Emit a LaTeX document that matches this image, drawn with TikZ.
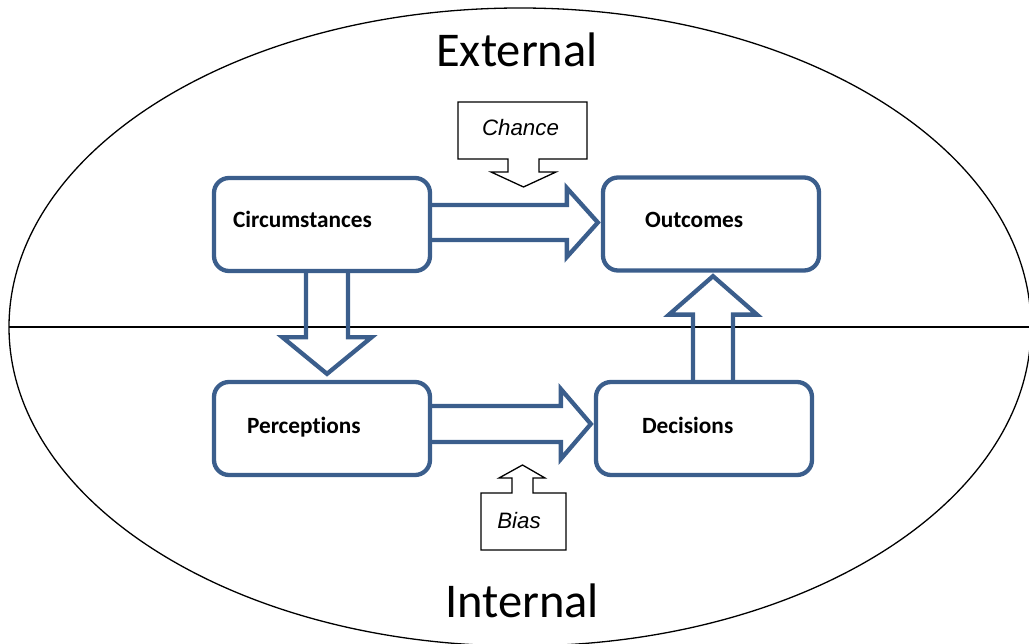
\documentclass[tikz,border=0pt]{standalone}
\usepackage{fontspec}
\setmainfont{Carlito}[Ligatures=NoCommon]
\newfontfamily\arialfont{Liberation Sans}
\usetikzlibrary{calc}
\definecolor{boxblue}{RGB}{59,94,140}
\begin{document}
\begin{tikzpicture}[x=1pt,y=-1pt,
  stage/.style={draw=boxblue, line width=4.3pt, rounded corners=15pt,
    minimum width=216pt, minimum height=93pt, fill=white, inner sep=0pt},
  stagetext/.style={font=\fontsize{23.3}{27}\selectfont\bfseries, anchor=base west, inner sep=0pt},
  blockarrow/.style={draw=boxblue, line width=4.3pt, line join=miter},
  callout/.style={draw=black, line width=1.3pt, fill=white},
  callouttext/.style={font=\arialfont\itshape\fontsize{22.3}{26}\selectfont, anchor=base, inner sep=0pt},
  region/.style={font=\fontsize{48.5}{58}\selectfont, anchor=base, inner sep=0pt}]
\useasboundingbox (0,0) rectangle (1029,644);

% outer ellipse and the external/internal divide
\begin{scope}
  \clip (0,0) rectangle (1029,644);
  \draw[line width=1.3pt] (520,327) ellipse [x radius=511, y radius=319];
\end{scope}
\coordinate (divL) at (9,327);
\coordinate (divR) at (1029,327);
\draw[line width=1.5pt] (divL) -- (divR);

\node[region] (ext) at (517,67) {External};
\node[region] (int) at (522,617) {Internal};

% the four stages
\node[stage] (circ) at (322,224.5) {};
\node[stage] (out)  at (711,224) {};
\node[stage] (perc) at (322,428.5) {};
\node[stage] (dec)  at (704,428.5) {};

\node[stagetext] (circT) at ($(circ.west)+(21,3.5)$) {Circumstances};
\node[stagetext] (outT)  at ($(out.west)+(44,3.5)$) {Outcomes};
\node[stagetext] (percT) at ($(perc.west)+(35,5.5)$) {Perceptions};
\node[stagetext] (decT)  at ($(dec.west)+(48,5.5)$) {Decisions};

% block arrows between the stages
% Circumstances -> Outcomes
\coordinate (a1t) at ($(out.west)+(-3,-1.5)$);
\coordinate (a1s) at (circ.east |- a1t);
\draw[blockarrow] ($(a1s)+(0,-17.5)$) -- ($(a1t)+(-31,-17.5)$) -- ($(a1t)+(-31,-34.5)$)
  -- (a1t) -- ($(a1t)+(-31,34.5)$) -- ($(a1t)+(-31,17.5)$) -- ($(a1s)+(0,17.5)$);

% Perceptions -> Decisions
\coordinate (a2t) at ($(dec.west)+(-3,-4.5)$);
\coordinate (a2s) at (perc.east |- a2t);
\draw[blockarrow] ($(a2s)+(0,-18)$) -- ($(a2t)+(-30,-18)$) -- ($(a2t)+(-30,-35)$)
  -- (a2t) -- ($(a2t)+(-30,35)$) -- ($(a2t)+(-30,18)$) -- ($(a2s)+(0,18)$);

% Circumstances -> Perceptions
\coordinate (a3t) at ($(perc.north)+(5,-6)$);
\coordinate (a3s) at (a3t |- circ.south);
\draw[blockarrow] ($(a3s)+(-21,0)$) -- ($(a3t)+(-21,-36.5)$) -- ($(a3t)+(-44.5,-36.5)$)
  -- (a3t) -- ($(a3t)+(44.5,-36.5)$) -- ($(a3t)+(21,-36.5)$) -- ($(a3s)+(21,0)$);

% Decisions -> Outcomes
\coordinate (a4t) at ($(out.south)+(2,3.5)$);
\coordinate (a4s) at (a4t |- dec.north);
\draw[blockarrow] ($(a4s)+(-20,0)$) -- ($(a4t)+(-20,38.5)$) -- ($(a4t)+(-44,38.5)$)
  -- (a4t) -- ($(a4t)+(44,38.5)$) -- ($(a4t)+(20,38.5)$) -- ($(a4s)+(20,0)$);

% callouts
\draw[callout] (458,102) -- (587,102) -- (587,159) -- (539,159) -- (539,172) -- (556,172)
  -- (523.5,187) -- (491,172) -- (508,172) -- (508,159) -- (458,159) -- cycle;
\node[callouttext] (chance) at (520.5,135.5) {Chance};

\draw[callout] (481,550) -- (566,550) -- (566,493) -- (533,493) -- (533,478) -- (545,478)
  -- (522.5,465) -- (499,478) -- (512,478) -- (512,493) -- (481,493) -- cycle;
\node[callouttext] (bias) at (519,528.5) {Bias};
\end{tikzpicture}
\end{document}
